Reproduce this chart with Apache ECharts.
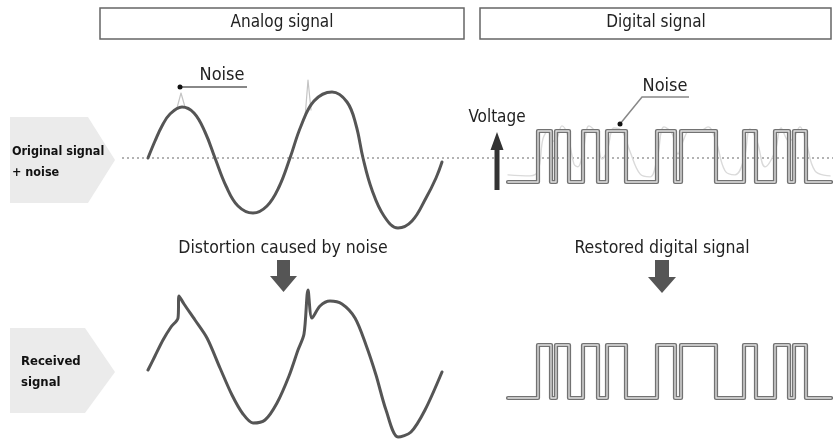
<!DOCTYPE html>
<html>
<head>
<meta charset="utf-8">
<title>Analog signal vs Digital signal</title>
<script src="https://cdn.jsdelivr.net/npm/echarts@6/dist/echarts.min.js"></script>
<style>
  html, body { margin: 0; padding: 0; background: #fff; }
  #main { width: 833px; height: 443px; }
</style>
</head>
<body>
<div id="main"></div>
<script>
  // 模拟信号: 时间 / 电压 (任意单位)
  var analogT = [0, 7, 14, 22, 34, 46, 57, 67, 78, 90, 105, 119, 131, 142, 153, 166, 184, 199, 208, 215, 224, 236, 250, 264, 278, 288, 294]
  var analogV = [0, 17, 32, 44, 51, 45, 26, 0, -28, -48, -55, -48, -29, 0, 32, 57, 66, 56, 33, 0, -32, -58, -70, -63, -40, -20, -4]

  // 噪声尖峰 (原始信号上的浅灰色)
  var spike1T = [29, 33, 37]
  var spike1V = [50, 65, 51]
  var spike2T = [157, 160, 163]
  var spike2V = [40, 78, 48]

  // 接收到的信号 (受噪声影响而失真)
  var receivedT = [0, 7, 15, 23, 30, 31, 36, 47, 59, 72, 84, 95, 105, 117, 129, 141, 150, 156, 160, 164, 172, 182, 194, 207, 218, 228, 238, 250, 263, 277, 294]
  var receivedV = [0, 14, 30, 43, 52, 74, 66, 50, 32, 2, -25, -44, -53, -50, -33, -6, 20, 36, 80, 52, 64, 69, 66, 52, 25, -5, -40, -67, -62, -40, -2]

  // 数字信号: 跳变时刻 与 电平
  var bitEdges = [0, 30, 43, 48, 61, 75, 90, 99, 118, 149, 167, 173, 208, 236, 248, 267, 281, 286, 298, 323]
  var bitLevels = [0, 1, 0, 1, 0, 1, 0, 1, 0, 1, 0, 1, 0, 1, 0, 1, 0, 1, 0, 0]

  // 数字信号上的噪声
  var noiseT = [0, 22, 30, 35, 40, 44, 48, 54, 60, 66, 70, 75, 81, 88, 94, 99, 106, 114, 122, 132, 142, 149, 156, 164, 170, 175, 182, 192, 200, 208, 217, 227, 236, 242, 249, 257, 267, 273, 281, 286, 292, 298, 307, 322]
  var noiseV = [0.14, 0.12, 0.22, 0.85, 1.0, 0.8, 0.82, 1.1, 0.9, 0.35, 0.3, 0.6, 1.1, 0.95, 0.45, 0.6, 1.06, 1.0, 0.6, 0.16, 0.1, 0.45, 1.08, 0.95, 0.55, 0.8, 1.02, 1.0, 1.08, 0.8, 0.22, 0.14, 0.45, 1.04, 0.8, 0.3, 0.6, 1.06, 0.8, 0.88, 1.08, 0.8, 0.22, 0.12]

  function zip (xs, ys) {
    return xs.map(function (x, i) { return [x, ys[i]] })
  }

  var FONT = '"DejaVu Sans Condensed", sans-serif'
  var LINE = '#555'

  var bits = zip(bitEdges, bitLevels)
  var noisePts = zip(noiseT, noiseV)

  function txt (x, y, s, size, opts) {
    opts = opts || {}
    return {
      type: 'text', x: x, y: y,
      style: {
        text: s, fill: opts.color || '#222', fontSize: size, fontFamily: FONT,
        fontWeight: opts.weight || 'normal', align: opts.align || 'center',
        verticalAlign: 'middle', lineHeight: opts.lineHeight
      }
    }
  }

  var graphics = [
    // 虚线基准
    { type: 'line', shape: { x1: 122, y1: 158, x2: 833, y2: 158 }, style: { stroke: '#9a9a9a', lineWidth: 1.5, lineDash: [2, 3] } },
    // 标题框
    { type: 'rect', shape: { x: 100, y: 8, width: 364, height: 31 }, style: { fill: '#fff', stroke: '#666', lineWidth: 1.5 } },
    { type: 'rect', shape: { x: 480, y: 8, width: 351, height: 31 }, style: { fill: '#fff', stroke: '#666', lineWidth: 1.5 } },
    txt(282, 23, 'Analog signal', 17),
    txt(656, 23, 'Digital signal', 17),
    // 左侧标签
    { type: 'polygon', shape: { points: [[10, 117], [88, 117], [115, 160], [88, 203], [10, 203]] }, style: { fill: '#ebebeb' } },
    { type: 'polygon', shape: { points: [[10, 328], [85, 328], [115, 372], [85, 413], [10, 413]] }, style: { fill: '#ebebeb' } },
    txt(12, 162, 'Original signal\n+ noise', 12.5, { align: 'left', weight: 'bold', color: '#111', lineHeight: 21 }),
    txt(21, 372, 'Received\nsignal', 13, { align: 'left', weight: 'bold', color: '#111', lineHeight: 21 }),
    // 中间说明和箭头
    txt(283, 248, 'Distortion caused by noise', 17.5),
    txt(662, 248, 'Restored digital signal', 17.5),
    { type: 'polygon', shape: { points: [[277, 260], [290, 260], [290, 276], [297, 276], [283.5, 292], [270, 276], [277, 276]] }, style: { fill: '#555' } },
    { type: 'polygon', shape: { points: [[655, 260], [669, 260], [669, 277], [676, 277], [662, 293], [648, 277], [655, 277]] }, style: { fill: '#555' } },
    // 电压箭头
    { type: 'polygon', shape: { points: [[497, 132], [503.5, 150], [499.5, 150], [499.5, 190], [494.5, 190], [494.5, 150], [490.5, 150]] }, style: { fill: '#333' } },
    txt(497, 118, 'Voltage', 17),
    // Noise 标注
    { type: 'line', shape: { x1: 180, y1: 87, x2: 247, y2: 87 }, style: { stroke: '#888', lineWidth: 2 } },
    { type: 'circle', shape: { cx: 180, cy: 87, r: 2.5 }, style: { fill: '#111' } },
    txt(222, 75, 'Noise', 18),
    { type: 'polyline', shape: { points: [[620, 124], [642, 97], [689, 97]] }, style: { stroke: '#888', lineWidth: 1.5, fill: null } },
    { type: 'circle', shape: { cx: 620, cy: 124, r: 2.5 }, style: { fill: '#111' } },
    txt(665, 86, 'Noise', 18)
  ]

  function axisX (i, max) {
    return { gridIndex: i, type: 'value', min: 0, max: max, show: false }
  }
  function axisY (i, min, max) {
    return { gridIndex: i, type: 'value', min: min, max: max, show: false }
  }
  function line (i, data, color, width, smooth, step) {
    return {
      type: 'line', xAxisIndex: i, yAxisIndex: i, data: data,
      showSymbol: false, symbol: 'none', smooth: smooth || false, step: step || false,
      clip: false, silent: true, animation: false,
      lineStyle: { color: color, width: width, cap: 'round', join: 'round' }
    }
  }

  var option = {
    backgroundColor: '#fff',
    animation: false,
    grid: [
      { left: 148, top: 58, width: 295, height: 200 },     // 模拟 原始
      { left: 148, top: 270, width: 295, height: 172 },    // 模拟 接收
      { left: 508, top: 105.5, width: 325, height: 102 },  // 数字 原始
      { left: 508, top: 318.5, width: 325, height: 106 }   // 数字 恢复
    ],
    xAxis: [axisX(0, 295), axisX(1, 295), axisX(2, 325), axisX(3, 325)],
    yAxis: [axisY(0, -100, 100), axisY(1, -72, 100), axisY(2, -0.5, 1.5), axisY(3, -0.5, 1.5)],
    graphic: graphics,
    series: [
      line(0, zip(spike1T, spike1V), '#c4c4c4', 1.2),
      line(0, zip(spike2T, spike2V), '#c4c4c4', 1.2),
      line(0, zip(analogT, analogV), LINE, 3, 0.4),
      line(1, zip(receivedT, receivedV), LINE, 3, 0.3),
      line(2, noisePts, '#dadada', 1.4, 0.4),
      line(2, bits, '#727272', 4.2, false, 'end'),
      line(2, bits, '#e2e2e2', 1.3, false, 'end'),
      line(3, bits, '#727272', 4.2, false, 'end'),
      line(3, bits, '#e2e2e2', 1.3, false, 'end')
    ]
  }

  var myChart = echarts.init(document.getElementById('main'))
  myChart.setOption(option)
</script>
</body>
</html>
